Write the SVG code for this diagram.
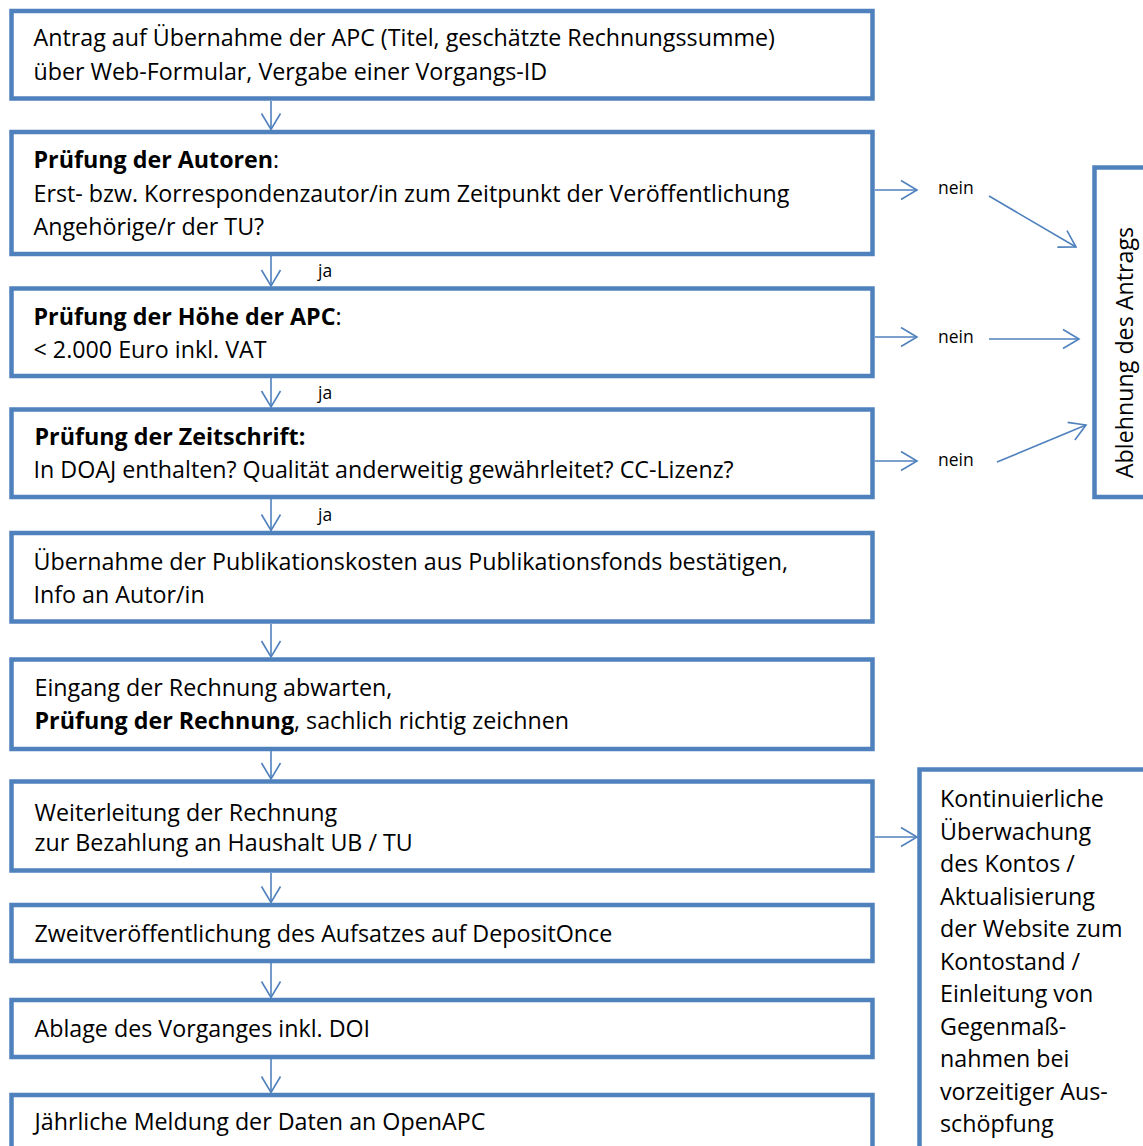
<svg xmlns="http://www.w3.org/2000/svg" width="1143" height="1146" viewBox="0 0 1143 1146">
<defs>
<style>
.box{fill:#fff;stroke:#4F81BD;stroke-width:4.5}
.t{font-family:"Open Sans","Noto Sans",sans-serif;font-size:23.25px;fill:#000}
.b{font-weight:bold}
.s{font-family:"Open Sans","Noto Sans",sans-serif;font-size:17.5px;fill:#000}
.c{fill:none;stroke:#4F81BD;stroke-width:1.6}
</style>
<marker id="ah" markerUnits="userSpaceOnUse" markerWidth="20" markerHeight="22" refX="17" refY="11" orient="auto">
<path d="M1,1.5 L17,11 L1,20.5" fill="none" stroke="#4F81BD" stroke-width="1.6"/>
</marker>
</defs>
<rect width="1143" height="1146" fill="#fff"/>

<g id="connectors">
<line class="c" x1="271" y1="101" x2="271" y2="129.5" marker-end="url(#ah)"/>
<line class="c" x1="271" y1="256" x2="271" y2="286" marker-end="url(#ah)"/>
<line class="c" x1="271" y1="378" x2="271" y2="407" marker-end="url(#ah)"/>
<line class="c" x1="271" y1="499" x2="271" y2="530.5" marker-end="url(#ah)"/>
<line class="c" x1="271" y1="624" x2="271" y2="657" marker-end="url(#ah)"/>
<line class="c" x1="271" y1="751" x2="271" y2="779" marker-end="url(#ah)"/>
<line class="c" x1="271" y1="873" x2="271" y2="902.5" marker-end="url(#ah)"/>
<line class="c" x1="271" y1="963" x2="271" y2="997.5" marker-end="url(#ah)"/>
<line class="c" x1="271" y1="1059" x2="271" y2="1092.5" marker-end="url(#ah)"/>
<line class="c" x1="875" y1="190" x2="917" y2="190" marker-end="url(#ah)"/>
<line class="c" x1="875" y1="337" x2="917" y2="337" marker-end="url(#ah)"/>
<line class="c" x1="875" y1="461" x2="917" y2="461" marker-end="url(#ah)"/>
<line class="c" x1="989" y1="196" x2="1076" y2="247" marker-end="url(#ah)"/>
<line class="c" x1="989" y1="339" x2="1079" y2="339" marker-end="url(#ah)"/>
<line class="c" x1="997" y1="462" x2="1086" y2="425" marker-end="url(#ah)"/>
<line class="c" x1="875" y1="837" x2="917" y2="837" marker-end="url(#ah)"/>
<text class="s" x="318" y="277">ja</text>
<text class="s" x="318" y="399">ja</text>
<text class="s" x="318" y="521">ja</text>
<text class="s" x="938" y="194">nein</text>
<text class="s" x="938" y="343">nein</text>
<text class="s" x="938" y="466">nein</text>
</g>

<g id="n1">
<rect class="box" x="11.5" y="11" width="861" height="87.5"/>
<text class="t" x="33.5" y="46">Antrag auf Übernahme der APC (Titel, geschätzte Rechnungssumme)</text>
<text class="t" x="33.5" y="80">über Web-Formular, Vergabe einer Vorgangs-ID</text>
</g>
<g id="n2">
<rect class="box" x="11.5" y="132" width="861" height="122"/>
<text class="t" x="33.5" y="168"><tspan class="b">Prüfung der Autoren</tspan>:</text>
<text class="t" x="33.5" y="202">Erst- bzw. Korrespondenzautor/in zum Zeitpunkt der Veröffentlichung</text>
<text class="t" x="33.5" y="235">Angehörige/r der TU?</text>
</g>
<g id="n3">
<rect class="box" x="11.5" y="288.5" width="861" height="87.5"/>
<text class="t" x="33.5" y="325"><tspan class="b">Prüfung der Höhe der APC</tspan>:</text>
<text class="t" x="33.5" y="358">&lt; 2.000 Euro inkl. VAT</text>
</g>
<g id="n4">
<rect class="box" x="11.5" y="409.5" width="861" height="87.5"/>
<text class="t b" x="34.5" y="445">Prüfung der Zeitschrift:</text>
<text class="t" x="33.5" y="478">In DOAJ enthalten? Qualität anderweitig gewährleitet? CC-Lizenz?</text>
</g>
<g id="n5">
<rect class="box" x="11.5" y="533" width="861" height="88.5"/>
<text class="t" x="33.5" y="570">Übernahme der Publikationskosten aus Publikationsfonds bestätigen,</text>
<text class="t" x="33.5" y="603">Info an Autor/in</text>
</g>
<g id="n6">
<rect class="box" x="11.5" y="659.5" width="861" height="89.5"/>
<text class="t" x="34.5" y="696">Eingang der Rechnung abwarten,</text>
<text class="t" x="34.5" y="729"><tspan class="b">Prüfung der Rechnung</tspan>, sachlich richtig zeichnen</text>
</g>
<g id="n7">
<rect class="box" x="11.5" y="781.5" width="861" height="89"/>
<text class="t" x="34.5" y="821">Weiterleitung der Rechnung</text>
<text class="t" x="34.5" y="851">zur Bezahlung an Haushalt UB / TU</text>
</g>
<g id="n8">
<rect class="box" x="11.5" y="905" width="861" height="56"/>
<text class="t" x="34.5" y="942">Zweitveröffentlichung des Aufsatzes auf DepositOnce</text>
</g>
<g id="n9">
<rect class="box" x="11.5" y="1000" width="861" height="57"/>
<text class="t" x="34.5" y="1037">Ablage des Vorganges inkl. DOI</text>
</g>
<g id="n10">
<rect class="box" x="11.5" y="1095" width="861" height="70"/>
<text class="t" x="34.5" y="1130">Jährliche Meldung der Daten an OpenAPC</text>
</g>
<g id="reject">
<rect class="box" x="1094.5" y="167.5" width="70" height="329.5"/>
<text class="t" transform="translate(1133,352.5) rotate(-90)" text-anchor="middle">Ablehnung des Antrags</text>
</g>
<g id="monitor">
<rect class="box" x="919.5" y="769.5" width="250" height="400"/>
<text class="t" x="940" y="807">Kontinuierliche</text>
<text class="t" x="940" y="839.5">Überwachung</text>
<text class="t" x="940" y="872">des Kontos /</text>
<text class="t" x="940" y="904.5">Aktualisierung</text>
<text class="t" x="940" y="937">der Website zum</text>
<text class="t" x="940" y="969.5">Kontostand /</text>
<text class="t" x="940" y="1002">Einleitung von</text>
<text class="t" x="940" y="1034.5">Gegenmaß-</text>
<text class="t" x="940" y="1067">nahmen bei</text>
<text class="t" x="940" y="1099.5">vorzeitiger Aus-</text>
<text class="t" x="940" y="1132">schöpfung</text>
</g>
</svg>
